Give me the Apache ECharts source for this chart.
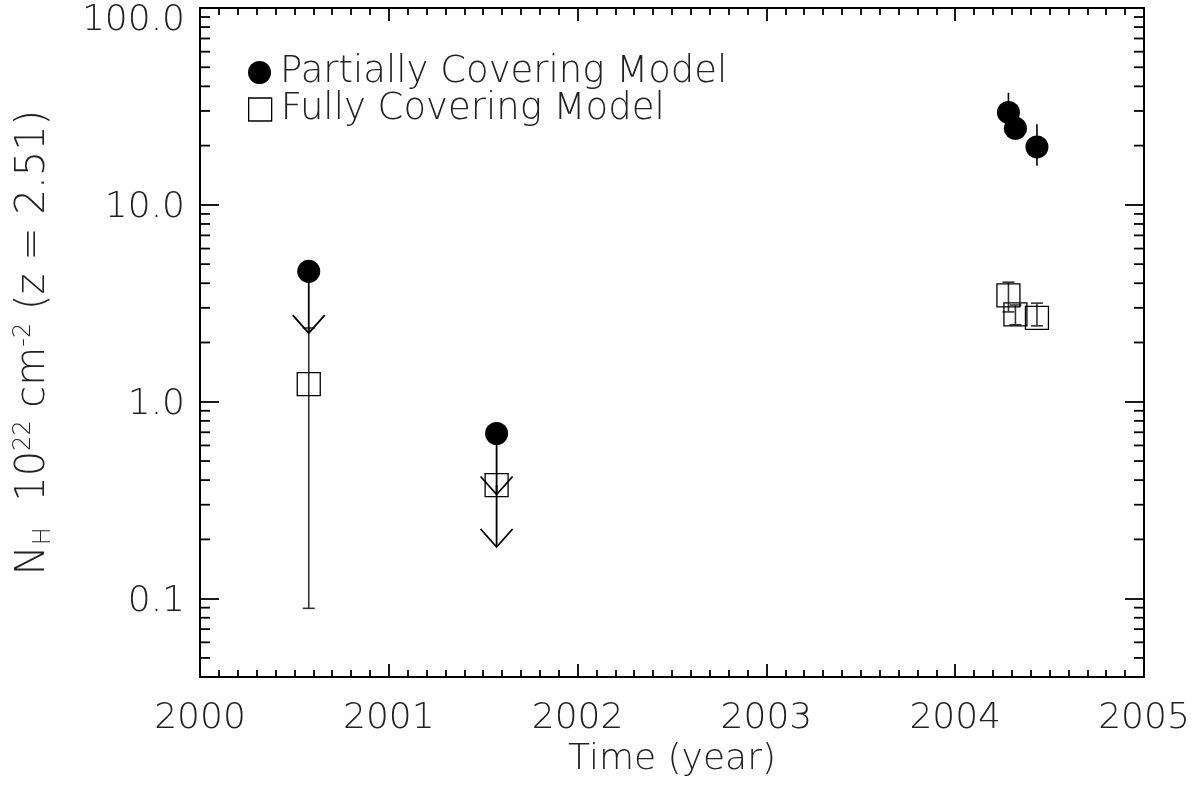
<!DOCTYPE html>
<html><head><meta charset="utf-8">
<script src="https://cdn.jsdelivr.net/npm/echarts@6/dist/echarts.min.js"></script>
<style>html,body{margin:0;padding:0;background:#fff}#c{width:1204px;height:795px}</style>
</head><body><div id="c"></div>
<script>
// ---- data ----
const years = [2000.576, 2001.571, 2004.282, 2004.319, 2004.433];
const partialNH = [4.6, 0.69, 29.5, 24.5, 19.7];
const partialErrLow = [null, null, 24, 21.5, 15.8];
const partialErrHigh = [null, null, 37.1, 27.5, 25.7];
const partialLimitTo = [2.23, 0.338, null, null, null];
const fullNH = [1.23, 0.377, 3.47, 2.78, 2.67];
const fullErrLow = [0.0893, null, 2.86, 2.46, 2.43];
const fullErrHigh = [2.37, null, 4.05, 3.1, 3.17];
const fullLimitTo = [null, 0.183, null, null, null];
const yTickValues = [0.1, 1, 10, 100];
const yTickLabels = ['0.1', '1.0', '10.0', '100.0'];
const xTickLabels = ['2000', '2001', '2002', '2003', '2004', '2005'];
const yMinorTicks = [0.05,0.06,0.07,0.08,0.09,0.2,0.3,0.4,0.5,0.6,0.7,0.8,0.9,2,3,4,5,6,7,8,9,20,30,40,50,60,70,80,90];

const FONT = '"DejaVu Sans ExtraLight", "DejaVu Sans"';
const TXT = '#222';
const chart = echarts.init(document.getElementById('c'));

function errBars(lo, hi, caps) {
  return years.map((x, i) => lo[i] == null ? null : [x, lo[i], hi[i], caps ? 1 : 0]).filter(d => d);
}
function limits(val, to) {
  return years.map((x, i) => to[i] == null ? null : [x, val[i], to[i]]).filter(d => d);
}
const renderErr = color => (params, api) => {
  const a = api.coord([api.value(0), api.value(1)]);
  const b = api.coord([api.value(0), api.value(2)]);
  const caps = api.value(3);
  const st = { stroke: color, lineWidth: 1.6 };
  const ch = [{ type: 'line', shape: { x1: a[0], y1: a[1], x2: b[0], y2: b[1] }, style: st }];
  if (caps) {
    ch.push({ type: 'line', shape: { x1: a[0] - 6, y1: a[1], x2: a[0] + 6, y2: a[1] }, style: st });
    ch.push({ type: 'line', shape: { x1: b[0] - 6, y1: b[1], x2: b[0] + 6, y2: b[1] }, style: st });
  }
  return { type: 'group', children: ch };
};
const renderLimit = color => (params, api) => {
  const a = api.coord([api.value(0), api.value(1)]);
  const b = api.coord([api.value(0), api.value(2)]);
  const st = { stroke: color, lineWidth: 1.8, fill: null };
  return { type: 'group', children: [
    { type: 'line', shape: { x1: a[0], y1: a[1], x2: b[0], y2: b[1] }, style: st },
    { type: 'polyline', shape: { points: [[b[0] - 16, b[1] - 18], [b[0], b[1]], [b[0] + 16, b[1] - 18]] }, style: st }
  ] };
};
const renderMinor = (params, api) => {
  const p = api.coord([2000, api.value(1)]);
  const cs = params.coordSys;
  const st = { stroke: '#000', lineWidth: 1.8 };
  return { type: 'group', children: [
    { type: 'line', shape: { x1: cs.x, y1: p[1], x2: cs.x + 10, y2: p[1] }, style: st },
    { type: 'line', shape: { x1: cs.x + cs.width - 10, y1: p[1], x2: cs.x + cs.width, y2: p[1] }, style: st }
  ] };
};

const axisLine = { show: true, lineStyle: { color: '#000', width: 2 } };
const xBase = {
  type: 'value', min: 2000, max: 2005, interval: 1,
  axisLine, splitLine: { show: false },
  axisTick: { inside: true, length: 13, lineStyle: { color: '#000', width: 1.8 } },
  minorTick: { show: true, splitNumber: 10, length: 7, lineStyle: { color: '#000', width: 1.8 } },
  minorSplitLine: { show: false }
};
const yBase = {
  type: 'log', logBase: 10, min: 0.04, max: 100,
  axisLine, splitLine: { show: false },
  axisTick: { inside: true, length: 19, lineStyle: { color: '#000', width: 1.8 } }
};
function yLabel(v) {
  const i = yTickValues.findIndex(t => Math.abs(Math.log10(t) - Math.log10(v)) < 1e-6);
  if (i < 0) return '';
  return (i === yTickValues.length - 1 ? '{top|' : '{n|') + yTickLabels[i] + '}';
}
const legendText = { fontFamily: FONT, fontWeight: 200, fontSize: 37, color: TXT, lineHeight: 36, padding: [0, 0, 0, 4] };

chart.setOption({
  animation: false,
  backgroundColor: '#fff',
  textStyle: { fontFamily: FONT, fontWeight: 200, color: TXT },
  grid: { left: 200, right: 60, top: 8, bottom: 118, outerBoundsMode: 'none', containLabel: false },
  legend: [
    { left: 243, top: 49, itemWidth: 23, itemHeight: 23, itemGap: 0, selectedMode: false, textStyle: legendText,
      data: [{ name: 'Partially Covering Model', icon: 'circle', itemStyle: { color: '#000', opacity: 1 } }] },
    { left: 243, top: 86, itemWidth: 23, itemHeight: 23, itemGap: 0, selectedMode: false, textStyle: legendText,
      data: [{ name: 'Fully Covering Model', icon: 'rect', itemStyle: { color: 'rgba(0,0,0,0)', borderColor: '#000', borderWidth: 1.3 } }] }
  ],
  xAxis: [
    Object.assign({}, xBase, {
      position: 'bottom',
      name: 'Time (year)', nameLocation: 'middle', nameGap: 58,
      nameTextStyle: { fontFamily: FONT, fontWeight: 200, fontSize: 36, color: TXT },
      axisLabel: { margin: 24, fontFamily: FONT, fontWeight: 200, fontSize: 36, color: TXT,
        formatter: v => xTickLabels[Math.round(v - 2000)] || '' }
    }),
    Object.assign({}, xBase, { position: 'top', axisLabel: { show: false } })
  ],
  yAxis: [
    Object.assign({}, yBase, {
      position: 'left',
      name: 'N{sub|H}  10{sup|22} cm{sup|-2} (z = 2.51)', nameLocation: 'middle', nameGap: 144,
      nameTextStyle: { fontFamily: FONT, fontWeight: 200, fontSize: 40, color: TXT, lineHeight: 44,
        rich: {
          sub: { fontFamily: FONT, fontWeight: 200, fontSize: 24, color: TXT, verticalAlign: 'bottom', lineHeight: 44, padding: [16, 0, 0, 0] },
          sup: { fontFamily: FONT, fontWeight: 200, fontSize: 24, color: TXT, verticalAlign: 'top', lineHeight: 44, padding: [0, 0, 12, 0] }
        } },
      axisLabel: { margin: 15, fontFamily: FONT, fontWeight: 200, fontSize: 36, color: TXT, formatter: yLabel,
        rich: {
          n: { fontFamily: FONT, fontWeight: 200, fontSize: 36, color: TXT, padding: [5, 0, 0, 0] },
          top: { fontFamily: FONT, fontWeight: 200, fontSize: 36, color: TXT, padding: [25, 0, 0, 0] }
        } }
    }),
    Object.assign({}, yBase, { position: 'right', axisLabel: { show: false } })
  ],
  series: [
    { type: 'custom', name: 'yminor', silent: true, renderItem: renderMinor,
      data: yMinorTicks.map(v => [2000, v]), encode: { x: 0, y: 1 }, z: 1 },
    { type: 'custom', name: 'errFull', silent: true, renderItem: renderErr('#333'),
      data: errBars(fullErrLow, fullErrHigh, true), encode: { x: 0, y: [1, 2] }, z: 2 },
    { type: 'custom', name: 'errPartial', silent: true, renderItem: renderErr('#000'),
      data: errBars(partialErrLow, partialErrHigh, false), encode: { x: 0, y: [1, 2] }, z: 2 },
    { type: 'custom', name: 'limPartial', silent: true, renderItem: renderLimit('#000'),
      data: limits(partialNH, partialLimitTo), encode: { x: 0, y: [1, 2] }, z: 3 },
    { type: 'custom', name: 'limFull', silent: true, renderItem: renderLimit('#000'),
      data: limits(fullNH, fullLimitTo), encode: { x: 0, y: [1, 2] }, z: 3 },
    { type: 'scatter', name: 'Fully Covering Model', symbol: 'rect', symbolSize: 23,
      itemStyle: { color: 'rgba(0,0,0,0)', borderColor: '#000', borderWidth: 1.3, opacity: 1 },
      data: years.map((x, i) => [x, fullNH[i]]), z: 4 },
    { type: 'scatter', name: 'Partially Covering Model', symbol: 'circle', symbolSize: 23,
      itemStyle: { color: '#000', opacity: 1 },
      data: years.map((x, i) => [x, partialNH[i]]), z: 5 }
  ]
});
</script></body></html>
